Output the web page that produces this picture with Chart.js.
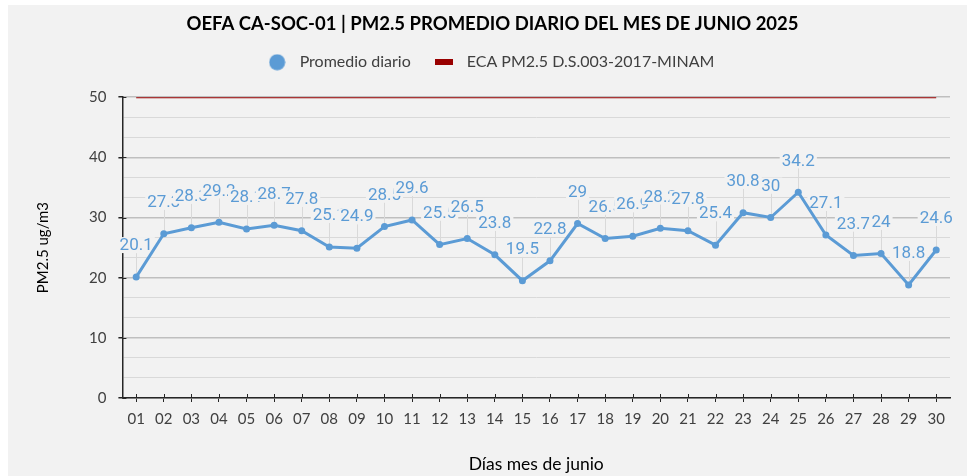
<!DOCTYPE html>
<html lang="es">
<head>
<meta charset="utf-8">
<script src="https://cdn.jsdelivr.net/npm/chart.js@4.4.1/dist/chart.umd.min.js"></script>
<style>
  html, body { margin: 0; padding: 0; background: #ffffff; }
  #wrap { position: absolute; left: 8px; top: 5px; width: 959px; height: 471px; background: #f2f2f2; }
</style>
</head>
<body>
<div id="wrap"><canvas id="chartPM25"></canvas></div>
<script>
/* PM2.5 promedio diario — junio 2025, estación CA-SOC-01 */

const dias = ["01","02","03","04","05","06","07","08","09","10","11","12","13","14","15",
              "16","17","18","19","20","21","22","23","24","25","26","27","28","29","30"];
const promedioDiario = [20.1, 27.3, 28.3, 29.2, 28.1, 28.7, 27.8, 25.1, 24.9, 28.5,
                        29.6, 25.5, 26.5, 23.8, 19.5, 22.8, 29, 26.5, 26.9, 28.2,
                        27.8, 25.4, 30.8, 30, 34.2, 27.1, 23.7, 24, 18.8, 24.6];
const ecaLimite = [50, 50, 50, 50, 50, 50, 50, 50, 50, 50, 50, 50, 50, 50, 50,
                   50, 50, 50, 50, 50, 50, 50, 50, 50, 50, 50, 50, 50, 50, 50];
const yTicks = [0, 10, 20, 30, 40, 50];
const subdivisiones = 3; // líneas menores entre cada marca principal

const AZUL = "#5b9bd5";
const ROJO = "#990000";
const FONDO = "#f2f2f2";
const TEXTO = "#404040";
const EJE = "#262626";
const FUENTE = "Lato, 'Open Sans', sans-serif";

// marcadores de la leyenda
function markerCanvas(w, h, draw) {
  const c = document.createElement("canvas");
  c.width = w; c.height = h;
  draw(c.getContext("2d"));
  return c;
}
const circuloLeyenda = markerCanvas(17, 17, (g) => {
  g.fillStyle = AZUL;
  g.beginPath(); g.arc(8.5, 8.5, 8, 0, Math.PI * 2); g.fill();
});
const barraLeyenda = markerCanvas(18, 6, (g) => {
  g.fillStyle = ROJO;
  g.fillRect(0, 0, 18, 6);
});
const marcadores = [circuloLeyenda, barraLeyenda];

// un poco más de aire bajo la leyenda
const legendaEspacio = {
  id: "legendaEspacio",
  beforeInit(chart) {
    const fitOriginal = chart.legend.fit;
    chart.legend.fit = function () {
      fitOriginal.call(this);
      this.height += 17;
      if (this.lineWidths) this.lineWidths[0] += 8;
    };
  },
};

// etiquetas de datos con línea guía, dibujadas debajo de la serie
const etiquetasPlugin = {
  id: "etiquetas",
  beforeDatasetsDraw(chart) {
    const meta = chart.getDatasetMeta(0);
    const ctx = chart.ctx;
    const alto = 32;
    ctx.save();
    ctx.strokeStyle = "#d9d9d9";
    ctx.lineWidth = 1;
    meta.data.forEach((pt) => {
      ctx.beginPath();
      ctx.moveTo(Math.round(pt.x) + 0.5, pt.y - alto + 8);
      ctx.lineTo(Math.round(pt.x) + 0.5, pt.y - 3);
      ctx.stroke();
    });
    ctx.font = "17px Roboto, sans-serif";
    ctx.textAlign = "center";
    ctx.textBaseline = "middle";
    meta.data.forEach((pt, i) => {
      const txt = String(promedioDiario[i]);
      const w = ctx.measureText(txt).width;
      ctx.fillStyle = FONDO;
      ctx.fillRect(pt.x - w / 2 - 2, pt.y - alto - 8, w + 4, 16);
      ctx.fillStyle = AZUL;
      ctx.fillText(txt, pt.x, pt.y - alto + 1);
    });
    ctx.restore();
  },
  // marcas de graduación que cruzan los ejes
  afterDraw(chart) {
    const { ctx, chartArea } = chart;
    const x = chart.scales.x, y = chart.scales.y;
    ctx.save();
    ctx.strokeStyle = EJE;
    ctx.lineWidth = 1;
    x.ticks.forEach((t, i) => {
      const px = Math.round(x.getPixelForTick(i)) + 0.5;
      ctx.beginPath(); ctx.moveTo(px, chartArea.bottom); ctx.lineTo(px, chartArea.bottom - 4); ctx.stroke();
    });
    y.ticks.forEach((t, i) => {
      if (!t.major) return;
      const py = Math.round(y.getPixelForTick(i)) + 0.5;
      ctx.beginPath(); ctx.moveTo(chartArea.left, py); ctx.lineTo(chartArea.left + 4, py); ctx.stroke();
    });
    ctx.restore();
  },
};

const chart = new Chart(document.getElementById("chartPM25"), {
  type: "line",
  data: {
    labels: dias,
    datasets: [
      {
        label: "Promedio diario",
        data: promedioDiario,
        borderColor: AZUL,
        backgroundColor: AZUL,
        borderWidth: 3,
        pointRadius: 3.5,
        pointBackgroundColor: AZUL,
        pointBorderWidth: 0,
        pointStyle: "circle",
        tension: 0,
        order: 1,
      },
      {
        label: "ECA PM2.5 D.S.003-2017-MINAM",
        data: ecaLimite,
        borderColor: ROJO,
        backgroundColor: ROJO,
        borderWidth: 2,
        pointRadius: 0,
        order: 2,
      },
    ],
  },
  options: {
    responsive: true,
    maintainAspectRatio: false,
    animation: false,
    layout: { padding: { left: 10, right: 0, top: 0, bottom: 0 } },
    plugins: {
      title: {
        display: true,
        text: "OEFA CA-SOC-01 | PM2.5 PROMEDIO DIARIO DEL MES DE JUNIO 2025",
        color: "#000000",
        font: { family: FUENTE, size: 18.5, weight: "bold" },
        padding: { top: 8, bottom: 0 },
      },
      legend: {
        position: "top",
        labels: {
          usePointStyle: true,
          pointStyleWidth: 29,
          color: TEXTO,
          font: { family: FUENTE, size: 16 },
          padding: 19,
          generateLabels(chart) {
            const items = Chart.defaults.plugins.legend.labels.generateLabels(chart);
            items.forEach((it, i) => { it.pointStyle = marcadores[i]; });
            return items;
          },
        },
      },
      tooltip: { enabled: false },
    },
    scales: {
      x: {
        offset: true,
        grid: { drawOnChartArea: false, tickLength: 4, tickColor: EJE, tickWidth: 1 },
        border: { color: EJE, width: 1.5 },
        ticks: { color: TEXTO, font: { family: FUENTE, size: 15 }, padding: 8, maxRotation: 0, autoSkip: false },
        title: {
          display: true,
          text: "Días mes de junio",
          color: "#000000",
          font: { family: FUENTE, size: 17.5 },
          padding: { top: 18, bottom: 1 },
        },
      },
      y: {
        min: yTicks[0],
        max: yTicks[yTicks.length - 1],
        afterBuildTicks(scale) {
          const paso = (yTicks[1] - yTicks[0]) / subdivisiones;
          const n = (yTicks.length - 1) * subdivisiones;
          const ticks = [];
          for (let k = 0; k <= n; k++) ticks.push({ value: yTicks[0] + k * paso, major: k % subdivisiones === 0 });
          scale.ticks = ticks;
        },
        grid: {
          color: (c) => (c.tick && c.tick.major ? "#bfbfbf" : "#d9d9d9"),
          lineWidth: (c) => (c.tick && c.tick.major ? 1.5 : 1),
          tickLength: 4,
          tickColor: (c) => (c.tick && c.tick.major ? EJE : "rgba(0,0,0,0)"),
        },
        border: { color: EJE, width: 1.5 },
        ticks: {
          color: TEXTO,
          font: { family: FUENTE, size: 15 },
          padding: 12,
          autoSkip: false,
          callback(value, index, ticks) {
            return ticks[index].major ? String(Math.round(value)) : "";
          },
        },
        title: {
          display: true,
          text: "PM2.5 ug/m3",
          color: "#000000",
          font: { family: FUENTE, size: 15 },
          padding: { top: 16, bottom: 25 },
        },
      },
      // eje vacío a la derecha: solo reserva el margen del área de trazado
      margenDer: {
        position: "right",
        display: true,
        grid: { display: false },
        border: { display: false },
        ticks: { display: false },
        afterFit(scale) { scale.width = 17; },
      },
    },
  },
  plugins: [legendaEspacio, etiquetasPlugin],
});
</script>
</body>
</html>
